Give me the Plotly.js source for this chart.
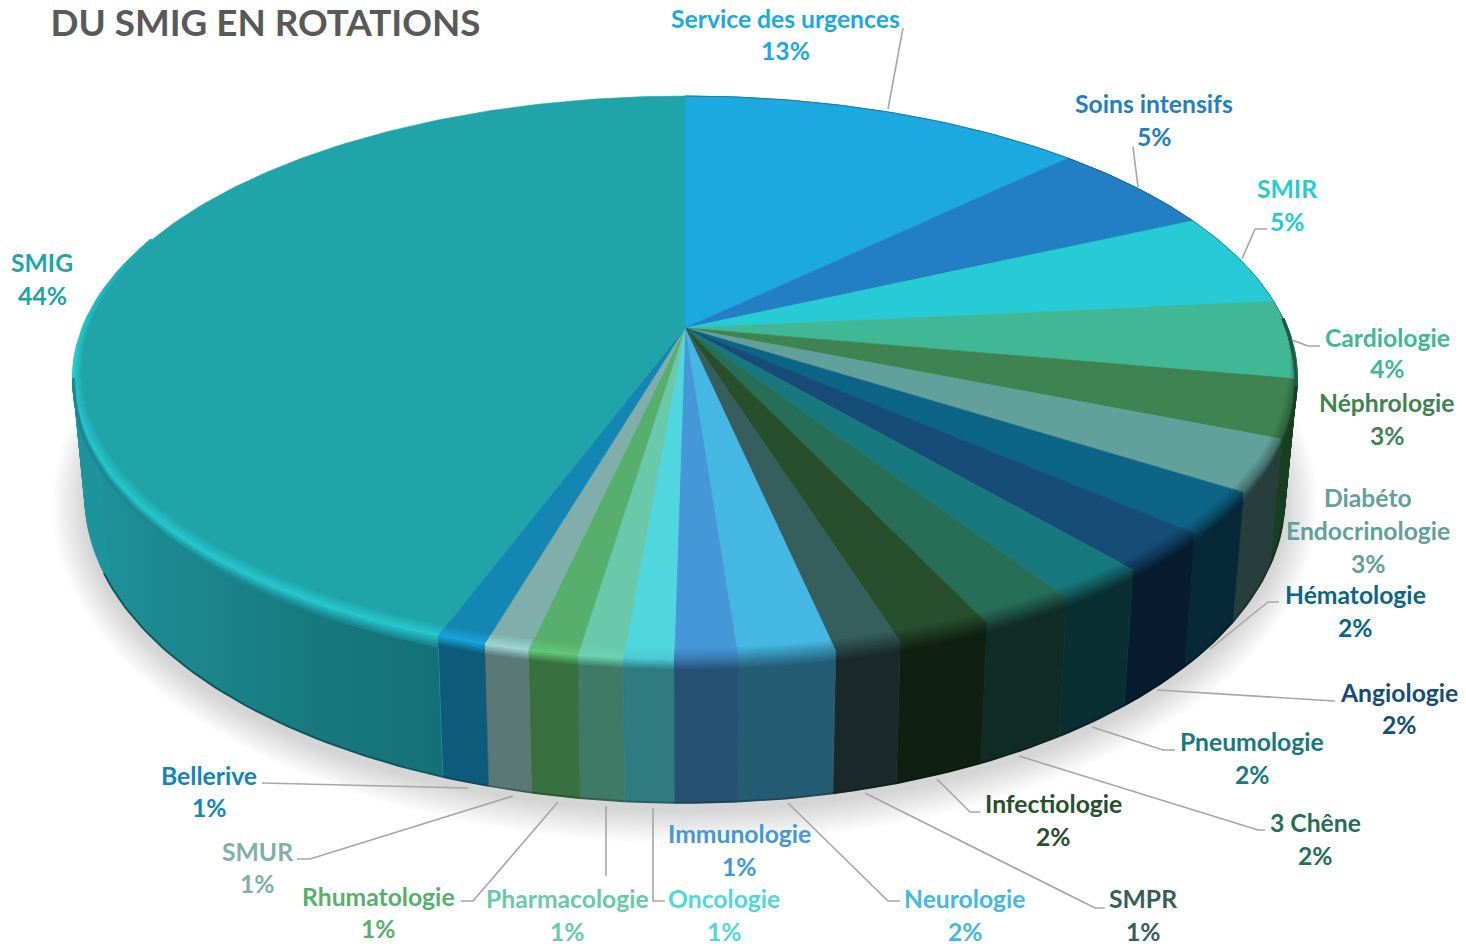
<!DOCTYPE html>
<html><head><meta charset="utf-8">
<script src="https://cdn.plot.ly/plotly-3.0.1.min.js"></script>
<style>html,body{margin:0;padding:0;background:#fff}#c{width:1466px;height:946px}</style></head>
<body><div id="c"></div>
<script>
// ---- data, clockwise from 12 o'clock
var categories = ["Service des urgences","Soins intensifs","SMIR","Cardiologie","Néphrologie","Diabéto Endocrinologie","Hématologie","Angiologie","Pneumologie","3 Chêne","Infectiologie","SMPR","Neurologie","Immunologie","Oncologie","Pharmacologie","Rhumatologie","SMUR","Bellerive","SMIG"];
var values = [12.65,5.35,5.35,4.45,3.3,2.95,2.4,2.3,2.05,2.15,2.1,1.48,2.15,1.4,1.1,1.0,1.1,1.0,1.1,44.3];
var titleText = "DU SMIG EN ROTATIONS";
// ---- styles
var topColors = ["#1BA9E0","#237FC4","#26CBD6","#41B895","#3F8352","#62A09B","#0C6587","#164C76","#17787E","#276E57","#284F2C","#365E5C","#45B7E5","#4598D8","#50D6DF","#69C9AA","#56AF6C","#80AFAB","#1486B4","#1FA4A9"];
var wallColors = ["#0f6a8e","#14507c","#178088","#1f5a48","#1a3f22","#273f3d","#062838","#071c2e","#092f33","#112b25","#0f2013","#1a2a2b","#245d73","#265074","#2e7b80","#3f7a66","#38703f","#5a7875","#0e5c7c","#1f949c"];
// ---- label placement: line texts are derived from the categories and values, [centre x, first line y, line step]
var labelPlace = [[785,18,32],[1154,103,33],[1287,188,33],[1387,337,31],[1387,402,33],[1368,497,33],[1355,594,33],[1399,692,32],[1252,741,33],[1315,822,33],[1053,803,33],[1143,898,33],[965,898,33],[739,833,33],[724,898,33],[567,898,33],[378,896,32],[257,851,32],[209,775,32],[42,262,33]];
var leaders = [
 [[903,28],[888,109]],[[1133,147],[1138,187]],[[1242,259],[1255,229],[1267,229]],[[1292,340],[1308,346],[1320,346]],null,null,
 [[1210,649],[1268,602],[1279,602]],[[1157,690],[1335,701]],[[1092,727],[1163,750],[1175,750]],[[1019,756],[1258,830],[1265,830]],
 [[937,779],[970,812],[980,812]],[[865,793],[1095,908],[1105,908]],[[788,803],[888,901],[900,901]],null,[[653,808],[653,901],[665,901]],
 [[606,806],[606,876]],[[558,802],[473,901],[461,901]],[[513,796],[310,859],[297,859]],[[468,788],[262,783]],null];

// ---- projection of the tilted disc onto the axes
var CX=685, CY=328, RX=602, RY=273, K=0.177, WALL_END=262;
function P(deg,r){var a=deg*Math.PI/180,u=Math.sin(a)*r,v=Math.cos(a)*r,d=1+K*v;return [CX+RX*u/d,CY-RY*v/d];}
function toBottom(p){return [CX+(p[0]-CX)*600/612, 498+(p[1]-378)*305/282];}
function arc(a,b,r){var o=[],n=Math.max(2,Math.ceil(Math.abs(b-a)));for(var i=0;i<=n;i++)o.push(P(a+(b-a)*i/n,r));return o;}
function hex(c){return [1,3,5].map(function(i){return parseInt(c.substr(i,2),16);});}
function mix(a,b,t){return a.map(function(x,i){return x+(b[i]-x)*t;});}
function css(a){return "rgb("+a.map(function(x){return Math.max(0,Math.min(255,Math.round(x)));}).join(",")+")";}
function clamp(x){return Math.max(0,Math.min(1,x));}

var total=values.reduce(function(a,b){return a+b;},0), edges=[0];
values.forEach(function(v){edges.push(edges[edges.length-1]+v/total*360);});
var traces=[];
function poly(pts,color,extra){var t={type:"scatter",mode:"lines",x:pts.map(function(p){return p[0];}),y:pts.map(function(p){return p[1];}),fill:"toself",fillcolor:color,line:{color:color,width:0.6},hoverinfo:"skip",showlegend:false};for(var k in extra)t[k]=extra[k];traces.push(t);}
function line(pts,color,w,op){traces.push({type:"scatter",mode:"lines",x:pts.map(function(p){return p?p[0]:null;}),y:pts.map(function(p){return p?p[1]:null;}),line:{color:color,width:w},opacity:op===undefined?1:op,hoverinfo:"skip",showlegend:false,connectgaps:false});}

// soft ground shadow
for(var s=0;s<14;s++){var pts=[],g=2+s*2.4;for(var d=0;d<=360;d+=4){var a=d*Math.PI/180;pts.push([685+(600+g)*Math.sin(a),505+(305+g)*Math.cos(a)]);}
 poly(pts,"rgba(0,0,0,0.012)",{line:{width:0}});}
// side walls (only the part in front of the far edge is visible)
categories.forEach(function(name,i){
 var a0=edges[i],a1=i===19?WALL_END:edges[i+1];
 var top=arc(a0,a1,1),bot=top.map(toBottom).reverse(),pts=top.concat(bot);pts.push(top[0]);
 var extra={name:name};
 if(i===19){extra.fillgradient={type:"horizontal",colorscale:[[0,"#1f949c"],[0.2,"#1c8c92"],[0.6,"#187b80"],[1,"#147076"]]};}
 poly(pts,wallColors[i],extra);
});
// wall silhouette where the wall turns away from the viewer (ruled strips)
categories.forEach(function(name,i){
 var r=[];
 for(var d=Math.ceil(edges[i]);d<=edges[i+1];d+=0.5){
  if((d>=85&&d<=122)||(d>=244&&d<=WALL_END)){var p=P(d,1);r.push(p,toBottom(p),null);}
 }
 if(r.length)line(r,wallColors[i],1.6);
});
// bottom edge darkening
categories.forEach(function(name,i){
 var a=Math.max(edges[i],105),b=Math.min(edges[i+1],246);if(b<=a)return;
 line(arc(a,b,1).map(toBottom),css(mix(i===19?[20,112,118]:hex(wallColors[i]),[0,0,0],0.22)),2);
});
// top faces
categories.forEach(function(name,i){
 var pts=[[CX,CY]].concat(arc(edges[i],edges[i+1],1));pts.push([CX,CY]);
 poly(pts,topColors[i],{name:name});
});
// bevel between top face and wall
var LEVELS=[-1,-0.8,-0.6,-0.4,-0.2,0,0.2,0.4,0.6,0.8,1];
function bevelPoint(deg,t,w){
 var c=Math.abs(Math.cos(deg*Math.PI/180));
 if(t<=0)return P(deg,1+0.03*w*t*(0.35+0.65*c));
 var p=P(deg,1),q=toBottom(p),f=0.075*t*w;return [p[0]+(q[0]-p[0])*f,p[1]+(q[1]-p[1])*f];
}
function bevelWidth(deg){return clamp(Math.min((deg-88)/14,(290-deg)/25));}
function litAt(deg){return clamp((deg-176)/18);}
function fadeAt(deg){return clamp((290-deg)/25);}
LEVELS.forEach(function(t){
 categories.forEach(function(name,i){
  var A=Math.max(edges[i],88),B=Math.min(edges[i+1],290);if(B<=A)return;
  var n=Math.ceil((B-A)/6),T=hex(topColors[i]),W=hex(i===19?"#1a8890":wallColors[i]);
  for(var j=0;j<n;j++){
   var a=A+(B-A)*j/n,b=A+(B-A)*(j+1)/n,m=(a+b)/2,pts=[];
   if(t>0&&m>WALL_END)continue;            // no wall beyond the silhouette corner
   for(var q=0;q<=3;q++){var d=a+(b-a)*q/3;pts.push(bevelPoint(d,t,t>0?clamp((WALL_END-d)/10)*bevelWidth(d):bevelWidth(d)));}
   var lit=litAt(m),hiC=mix(mix(T,W,0.55),T.map(function(x){return x*1.22;}),lit);
   var col=t<=0?mix(T,hiC,1+t):mix(hiC,W,t);
   col=mix(T,col,fadeAt(m));
   line(pts,css(col),2.8);
  }
 });
});
// thin edge on the far side
categories.forEach(function(name,i){
 if(edges[i]<88) line(arc(edges[i],Math.min(edges[i+1],88),1),css(mix(hex(topColors[i]),[0,40,60],0.35)),0.9);
});
// leader lines
leaders.forEach(function(l){if(l)line(l,"#a6a6a6",1.6);});

// labels
var annotations=[];
categories.forEach(function(name,i){
 var lines=(i===5?["Diabéto","Endocrinologie"]:[name]);
 lines.push(Math.round(values[i]/total*100)+"%");
 var pl=labelPlace[i];
 lines.forEach(function(txt,k){
  annotations.push({x:pl[0],y:pl[1]+k*pl[2],xref:"x",yref:"y",text:txt,showarrow:false,xanchor:"center",yanchor:"middle",
   font:{family:"Lato, Carlito, sans-serif",size:24.7,weight:700,color:topColors[i]}});
 });
});
var layout={width:1466,height:946,margin:{l:0,r:0,t:0,b:0},paper_bgcolor:"#fff",plot_bgcolor:"#fff",showlegend:false,
 title:{text:titleText,x:50.5/1466,xanchor:"left",y:1-23/946,yanchor:"middle",yref:"container",font:{family:"Lato, Carlito, sans-serif",size:36.8,weight:700,color:"#595959"}},
 xaxis:{range:[0,1466],visible:false,fixedrange:true},
 yaxis:{range:[946,0],visible:false,fixedrange:true},
 annotations:annotations};
Plotly.newPlot("c",traces,layout,{displayModeBar:false,staticPlot:true});
</script></body></html>
